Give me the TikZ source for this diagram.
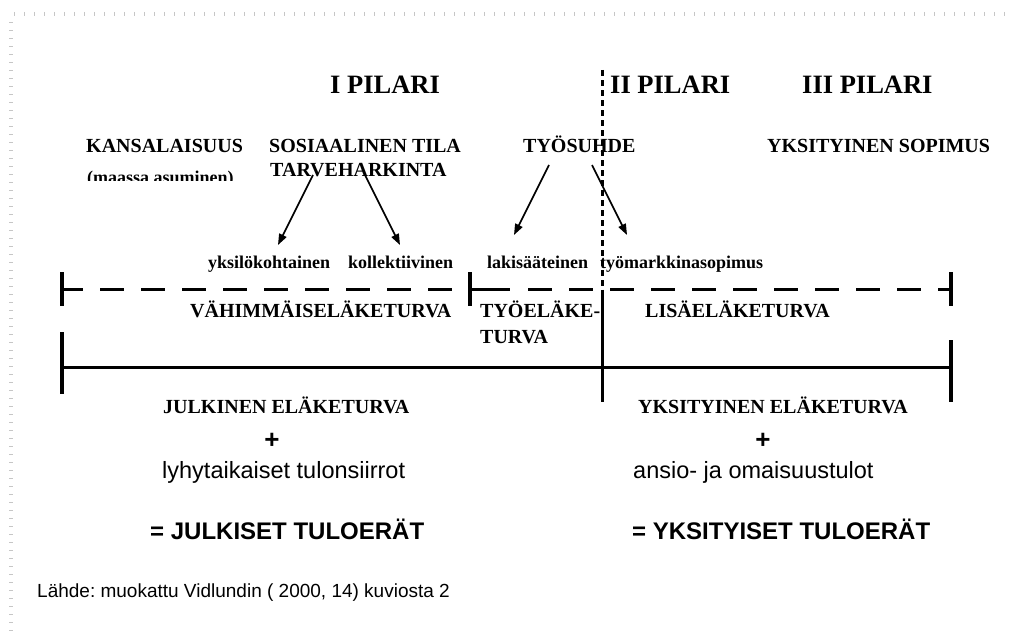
\documentclass[tikz,border=0pt]{standalone}
\usepackage{fontspec}
\setmainfont{Liberation Serif}
\newfontfamily\arialfont{Liberation Sans}
\usetikzlibrary{arrows.meta}
\frenchspacing

\begin{document}
\begin{tikzpicture}[x=1pt, y=-1pt,
    every node/.style={inner sep=0pt, anchor=base west},
    head/.style={font=\fontsize{26.5}{30}\selectfont\bfseries},
    basis/.style={font=\fontsize{20}{24}\selectfont\bfseries},
    kind/.style={font=\fontsize{18}{20}\selectfont\bfseries},
    sumtext/.style={font=\arialfont\fontsize{23.5}{26}\selectfont},
    plus/.style={anchor=center, font=\arialfont\fontsize{26}{28}\selectfont\bfseries},
    total/.style={font=\arialfont\fontsize{24}{28}\selectfont\bfseries},
    source/.style={font=\arialfont\fontsize{19}{22}\selectfont},
    pointer/.style={-{Triangle[length=11pt,width=8pt]}, line width=1.6pt},
    bar/.style={line width=3pt},
    tick/.style={line width=4pt}]
        \useasboundingbox (0,0) rectangle (1009,634);
        % page frame
        \foreach \x in {14,24,...,1004} {
          \draw[gray!45, line width=0.8pt] (\x,12) -- (\x,16);
          }
        \foreach \y in {22,30,...,630} {
          \draw[gray!45, line width=0.8pt] (9,\y) -- (13,\y);
          }
        % pillars
        \node[head] (pilar1) at (330,93) {I PILARI};
        \node[head] (pilar2) at (610,93) {II PILARI};
        \node[head] (pilar3) at (802,93) {III PILARI};
        % grounds
        \node[basis] (kansa) at (86,152.5) {KANSALAISUUS};
        \begin{scope}
          \clip (80,160) rectangle (250,180.5);
          \node[kind] (maassa) at (87,183) {(maassa asuminen)};
        \end{scope}
        \node[basis] (sosiaal) at (269,152.5) {SOSIAALINEN TILA};
        \node[basis] (tarve) at (270,176) {TARVEHARKINTA};
        \node[basis] (tyosuhde) at (523,152.5) {TYÖSUHDE};
        \node[basis] (sopimus) at (767,152.5) {YKSITYINEN SOPIMUS};
        % kinds
        \node[kind] (yksilo) at (208,268) {yksilökohtainen};
        \node[kind] (kollekt) at (348,268) {kollektiivinen};
        \node[kind] (lakisaat) at (487,268) {lakisääteinen};
        \node[kind] (tmsopimus) at (600,268) {työmarkkinasopimus};
        % arrows
        \coordinate (tarveA) at (313,175);
        \coordinate (tarveB) at (365,175);
        \coordinate (tyoA) at (549,165);
        \coordinate (tyoB) at (592,165);
        \coordinate (yksiloTip) at (278,245);
        \coordinate (kollektTip) at (400,245);
        \coordinate (lakiTip) at (514,235);
        \coordinate (tmTip) at (627,235);
        \draw[pointer] (tarveA) -- (yksiloTip);
        \draw[pointer] (tarveB) -- (kollektTip);
        \draw[pointer] (tyoA) -- (lakiTip);
        \draw[pointer] (tyoB) -- (tmTip);
        % dashed line
        \coordinate (dashL) at (62,289.5);
        \coordinate (dashM) at (470,289.5);
        \coordinate (dashR) at (951,289.5);
        \draw[bar, dash pattern=on 24pt off 17pt, dash phase=3pt] (dashL) -- (dashM);
        \draw[bar] (dashM) -- (510,289.5);
        \draw[bar, dash pattern=on 24pt off 17pt] (528,289.5) -- (dashR);
        \foreach \x in {62,470,951} {
          \draw[tick] (\x,272) -- (\x,306);
          }
        \node[basis] (vahimm) at (190,317) {VÄHIMMÄISELÄKETURVA};
        \node[basis] (tyoel) at (480,317) {TYÖELÄKE-};
        \node[basis] (tyoelb) at (480,343.5) {TURVA};
        \node[basis] (lisael) at (645,317) {LISÄELÄKETURVA};
        % solid line
        \coordinate (lineL) at (62,367.5);
        \coordinate (lineR) at (951,367.5);
        \draw[bar] (lineL) -- (lineR);
        \draw[tick] (62,332) -- (62,394);
        \draw[tick] (951,340) -- (951,402);
        \draw[bar] (602,289.5) -- (602,402);
        \draw[line width=3pt, dash pattern=on 6pt off 4pt] (602,70) -- (602,289.5);
        % sums
        \node[basis] (julkel) at (163,413) {JULKINEN ELÄKETURVA};
        \node[basis] (yksel) at (638,413) {YKSITYINEN ELÄKETURVA};
        \node[plus] (plusA) at (272,441) {+};
        \node[plus] (plusB) at (763,441) {+};
        \node[sumtext] (lyhyt) at (162,478) {lyhytaikaiset tulonsiirrot};
        \node[sumtext] (ansio) at (633,478) {ansio- ja omaisuustulot};
        \node[total] (julktulo) at (150,539) {= JULKISET TULOERÄT};
        \node[total] (yksitulo) at (632,539) {= YKSITYISET TULOERÄT};
        \node[source] (lahde) at (37,597) {Lähde: muokattu Vidlundin ( 2000, 14) kuviosta 2};
      \end{tikzpicture}
\end{document}
